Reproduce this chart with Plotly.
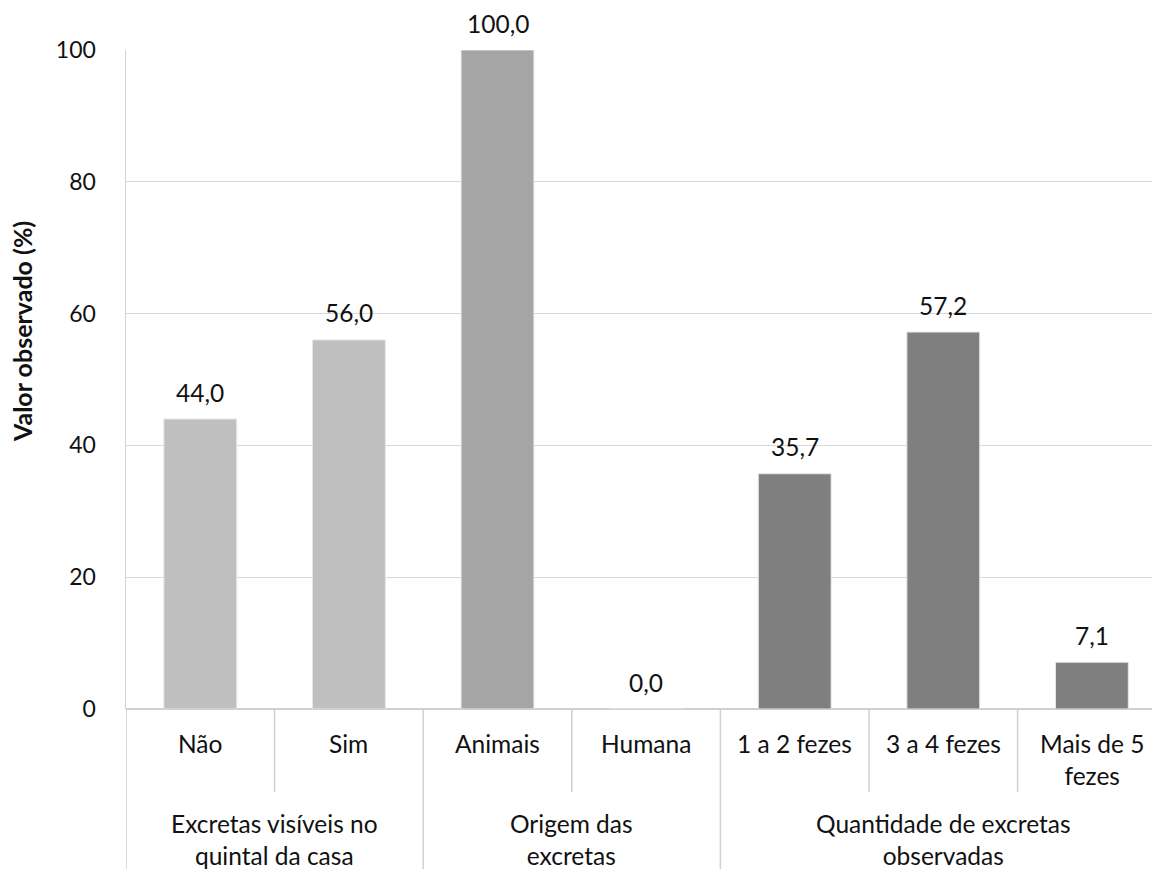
import plotly.graph_objects as go

categories = ["Não", "Sim", "Animais", "Humana", "1 a 2 fezes", "3 a 4 fezes", "Mais de 5<br>fezes"]
values = [44.0, 56.0, 100.0, 0.0, 35.7, 57.2, 7.1]
groups = ["Excretas visíveis no<br>quintal da casa", "Origem das<br>excretas", "Quantidade de excretas<br>observadas"]
group_sizes = [2, 2, 3]
group_colors = ["#bfbfbf", "#a5a5a5", "#7f7f7f"]
y_title = "Valor observado (%)"
y_ticks = [0, 20, 40, 60, 80, 100]

FONT = "Lato"
TXT = "#111111"
LINE = "#d0d0d0"
LBL = 24.5

W, H = 1152, 869
ML, MR, MT, MB = 126, 0, 50, 160
plot_h = H - MT - MB
cat_px = 148.6
plot_w = W - ML - MR
x_max = -0.5 + plot_w / cat_px

def py2paper(py):
    return (H - MB - py) / plot_h

bar_colors = []
for g, n in enumerate(group_sizes):
    bar_colors += [group_colors[g]] * n

xs = list(range(len(categories)))

fig = go.Figure()
fig.add_trace(go.Bar(
    x=xs, y=values, width=0.49,
    marker=dict(color=bar_colors, line=dict(color="#e6e6e6", width=1)),
    hoverinfo="skip", showlegend=False,
))

annotations = []
# data labels
for x, v in zip(xs, values):
    annotations.append(dict(
        x=x, y=v, xref="x", yref="y", text=f"{v:.1f}".replace(".", ","),
        showarrow=False, yshift=27, font=dict(family=FONT, size=LBL, color=TXT),
    ))
# category labels
for x, c in zip(xs, categories):
    nlines = c.count("<br>") + 1
    center = 743 + (nlines - 1) * 16
    annotations.append(dict(
        x=x, y=py2paper(center), xref="x", yref="paper", text=c,
        showarrow=False, yanchor="middle", font=dict(family=FONT, size=LBL, color=TXT),
    ))
# group labels and separators
shapes = []
start = 0
bounds = [-0.5]
for g, n in zip(groups, group_sizes):
    center_x = start + (n - 1) / 2
    annotations.append(dict(
        x=center_x, y=py2paper(839), xref="x", yref="paper", text=g,
        showarrow=False, yanchor="middle", font=dict(family=FONT, size=LBL, color=TXT),
    ))
    for k in range(1, n):
        bx = start + k - 0.5
        shapes.append(dict(type="line", xref="x", yref="paper", x0=bx, x1=bx,
                           y0=0, y1=py2paper(792), line=dict(color=LINE, width=1.5)))
    start += n
    bounds.append(start - 0.5)
for bx in bounds:
    shapes.append(dict(type="line", xref="x", yref="paper", x0=bx, x1=bx,
                       y0=0, y1=py2paper(869), line=dict(color=LINE, width=1.5)))

# y axis title
annotations.append(dict(
    x=(22 - ML) / plot_w, y=py2paper(332), xref="paper", yref="paper",
    text=f"<b>{y_title}</b>", showarrow=False, textangle=-90,
    font=dict(family=FONT, size=25, color=TXT), xanchor="center", yanchor="middle",
))

fig.update_layout(
    width=W, height=H,
    margin=dict(l=ML, r=MR, t=MT, b=MB, pad=0),
    paper_bgcolor="white", plot_bgcolor="white",
    xaxis=dict(range=[-0.5, x_max], showticklabels=False, showgrid=False,
               zeroline=False, showline=False, ticks="", fixedrange=True),
    yaxis=dict(range=[0, 100], tickvals=y_ticks, showgrid=True, gridcolor="#d9d9d9",
               gridwidth=1, zeroline=True, zerolinecolor=LINE, zerolinewidth=1.5,
               showline=True, linecolor=LINE, linewidth=1.5,
               ticks="", ticklabelstandoff=24,
               tickfont=dict(family=FONT, size=23, color=TXT), fixedrange=True),
    annotations=annotations,
    shapes=shapes,
    font=dict(family=FONT, color=TXT),
)

fig.write_html(
    "out.html",
    config={"displayModeBar": False, "staticPlot": True},
    post_script="document.body.style.margin='0';document.body.style.overflow='hidden';",
)
